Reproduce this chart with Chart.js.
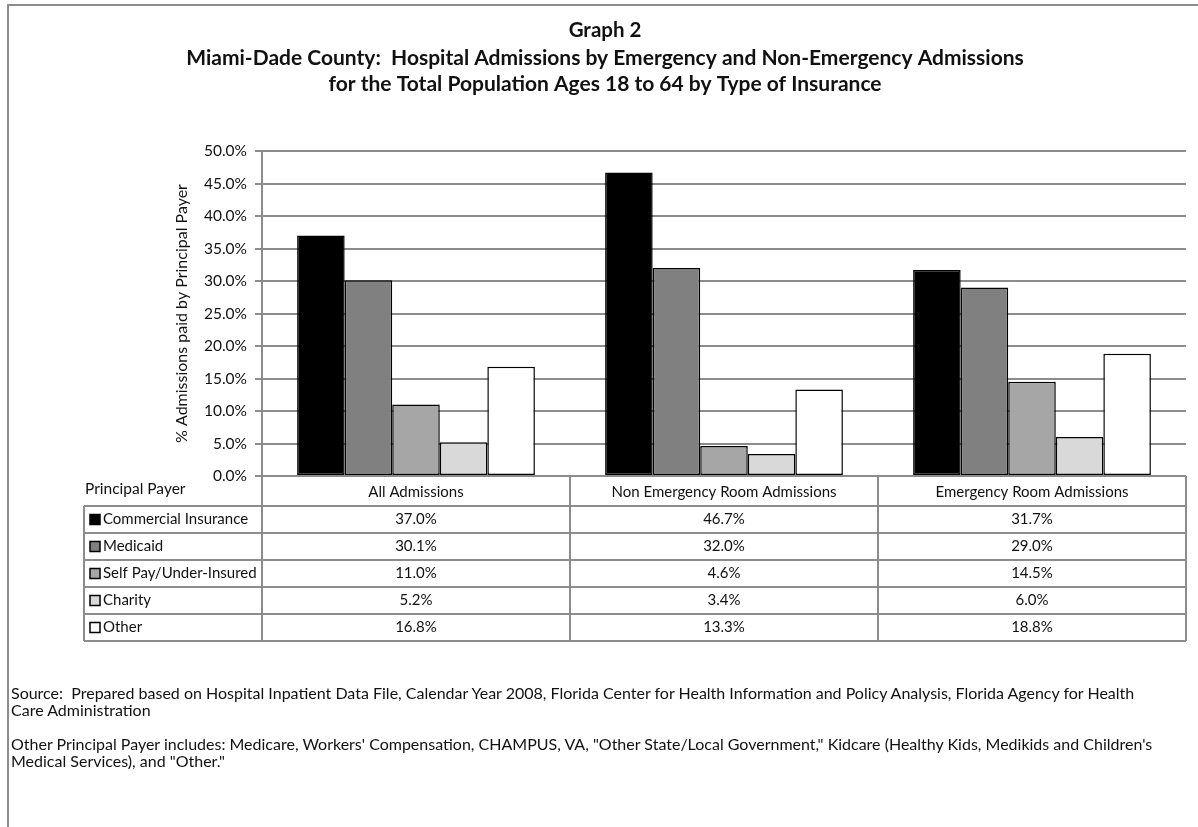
<!DOCTYPE html>
<html>
<head>
<meta charset="utf-8">
<script src="https://cdn.jsdelivr.net/npm/chart.js@4.4.1/dist/chart.umd.min.js"></script>
<style>
    html, body { margin: 0; padding: 0; background: #fff; }
    #wrap { position: relative; width: 1198px; height: 827px; overflow: hidden; font-family: Lato, 'Open Sans', sans-serif; }
    #frame { position: absolute; left: 7px; top: 4px; width: 1300px; height: 900px; border-top: 2px solid #8c8c8c; border-left: 2px solid #8c8c8c; }
    #chart { position: absolute; left: 0; top: 0; }
    .note { position: absolute; left: 11px; margin: 0; font-size: 16px; line-height: 17px; color: #111; white-space: nowrap; }
</style>
</head>
<body>
<div id="wrap">
    <div id="frame"></div>
    <canvas id="chart" width="1198" height="827"></canvas>
    <p class="note" style="top:684px;">Source:&nbsp; Prepared based on Hospital Inpatient Data File, Calendar Year 2008, Florida Center for Health Information and Policy Analysis, Florida Agency for Health<br>Care Administration</p>
    <p class="note" style="top:735px;">Other Principal Payer includes: Medicare, Workers' Compensation, CHAMPUS, VA, "Other State/Local Government," Kidcare (Healthy Kids, Medikids and Children's<br>Medical Services), and "Other."</p>
</div>
<script>
// ── Dati ───────────────────────────────────────────────────
var categories = ['All Admissions', 'Non Emergency Room Admissions', 'Emergency Room Admissions'];
var payers = ['Commercial Insurance', 'Medicaid', 'Self Pay/Under-Insured', 'Charity', 'Other'];
var commercial = [37.0, 46.7, 31.7];
var medicaid = [30.1, 32.0, 29.0];
var selfPay = [11.0, 4.6, 14.5];
var charity = [5.2, 3.4, 6.0];
var other = [16.8, 13.3, 18.8];
var yMin = 0, yMax = 50, yStep = 5;

var seriesValues = [commercial, medicaid, selfPay, charity, other];
var seriesColors = ['#000000', '#808080', '#a6a6a6', '#d9d9d9', '#ffffff'];
var FONT = 'Lato, "Open Sans", sans-serif';

function pct(v) { return v.toFixed(1) + '%'; }

// ── Tabella dati sotto il grafico ─────────────────────────
var dataTablePlugin = {
    id: 'dataTable',
    afterDraw: function (chart) {
        var ctx = chart.ctx;
        var area = chart.chartArea;
        var xs = chart.scales.x;
        var n = chart.data.labels.length;
        var catW = (area.right - area.left) / n;
        var headerTop = area.bottom;
        var headerH = 30, rowH = 27;
        var tableLeft = 84;
        var bodyTop = headerTop + headerH;
        var rows = chart.data.datasets.length;
        var bodyBottom = bodyTop + rowH * rows;

        ctx.save();
        ctx.strokeStyle = '#8c8c8c';
        ctx.lineWidth = 2;
        ctx.beginPath();
        // righe orizzontali
        for (var r = 0; r <= rows; r++) {
            var y = bodyTop + r * rowH;
            ctx.moveTo(tableLeft, y);
            ctx.lineTo(area.right, y);
        }
        // colonne
        ctx.moveTo(tableLeft, bodyTop);
        ctx.lineTo(tableLeft, bodyBottom);
        for (var c = 0; c <= n; c++) {
            var x = area.left + c * catW;
            ctx.moveTo(x, headerTop);
            ctx.lineTo(x, bodyBottom);
        }
        ctx.stroke();

        ctx.fillStyle = '#111';
        ctx.textBaseline = 'middle';
        ctx.font = '15.5px ' + FONT;
        ctx.textAlign = 'left';
        ctx.fillText('Principal Payer', 85, headerTop + 13);
        ctx.textAlign = 'center';
        ctx.font = '15px ' + FONT;
        chart.data.labels.forEach(function (lab, i) {
            ctx.fillText(lab, xs.getPixelForValue(i), headerTop + headerH / 2 + 1);
        });

        chart.data.datasets.forEach(function (ds, r) {
            var cy = bodyTop + r * rowH + rowH / 2;
            ctx.fillStyle = ds.backgroundColor;
            ctx.fillRect(90, cy - 5, 10, 10);
            ctx.lineWidth = 1.5;
            ctx.strokeStyle = '#000';
            ctx.strokeRect(90, cy - 5, 10, 10);
            ctx.fillStyle = '#111';
            ctx.textAlign = 'left';
            ctx.font = '15px ' + FONT;
            ctx.fillText(ds.label, 103, cy);
            ctx.textAlign = 'center';
            ds.data.forEach(function (v, i) {
                ctx.fillText(pct(v), xs.getPixelForValue(i), cy);
            });
        });
        ctx.restore();
    }
};

// ── Grafico ───────────────────────────────────────────────
var datasets = payers.map(function (name, i) {
    return {
        label: name,
        data: seriesValues[i],
        backgroundColor: seriesColors[i],
        borderColor: '#000',
        borderWidth: 1.5,
        borderSkipped: false,
        categoryPercentage: 0.772,
        barPercentage: 1.0
    };
});

new Chart(document.getElementById('chart').getContext('2d'), {
    type: 'bar',
    data: { labels: categories, datasets: datasets },
    plugins: [dataTablePlugin],
    options: {
        responsive: false,
        animation: false,
        // il titolo va centrato sulla pagina, non sull'area del grafico
        layout: { padding: { left: 24, right: 12, top: 0, bottom: 351 } },
        plugins: {
            legend: { display: false },
            tooltip: { enabled: false },
            title: {
                display: true,
                text: 'Graph 2',
                color: '#111',
                font: { family: FONT, size: 20.5, weight: 'bold', lineHeight: 1.2 },
                padding: { top: 18, bottom: 0 }
            },
            subtitle: {
                display: true,
                text: [
                    'Miami-Dade County:  Hospital Admissions by Emergency and Non-Emergency Admissions',
                    'for the Total Population Ages 18 to 64 by Type of Insurance'
                ],
                color: '#111',
                font: { family: FONT, size: 21, weight: 'bold', lineHeight: 26 / 21 },
                padding: { top: 2.4, bottom: 54 }
            }
        },
        scales: {
            x: {
                display: false
            },
            y: {
                min: yMin,
                max: yMax,
                afterFit: function (scale) { scale.width = 238; },
                ticks: {
                    stepSize: yStep,
                    color: '#111',
                    padding: 8,
                    font: { family: FONT, size: 15.5 },
                    callback: function (v) { return pct(v); }
                },
                grid: { color: '#8c8c8c', lineWidth: 2, tickLength: 7 },
                border: { color: '#8c8c8c', width: 2 },
                title: {
                    display: true,
                    text: '% Admissions paid by Principal Payer',
                    color: '#111',
                    font: { family: FONT, size: 16 },
                    padding: { top: 148, bottom: 2 }
                }
            }
        }
    }
});
</script>
</body>
</html>
